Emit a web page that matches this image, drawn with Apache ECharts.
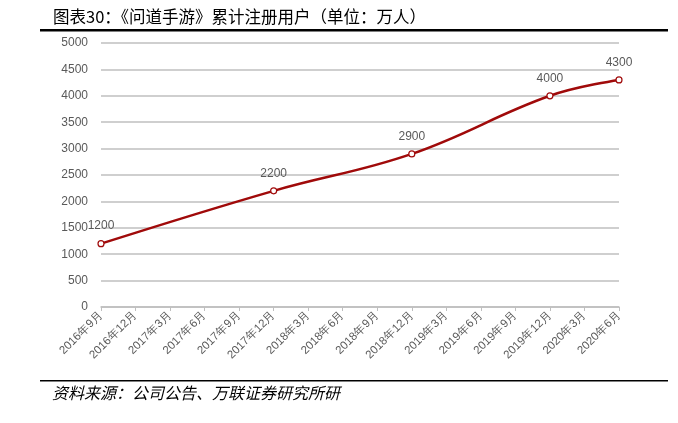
<!DOCTYPE html>
<html>
<head>
<meta charset="utf-8">
<script src="https://cdn.jsdelivr.net/npm/echarts@6/dist/echarts.min.js"></script>
<style>html,body{margin:0;padding:0;background:#fff;}#c{width:678px;height:423px;}</style>
</head>
<body>
<div id="c"></div>
<script>
const categories = ['2016年9月','2016年12月','2017年3月','2017年6月','2017年9月','2017年12月','2018年3月','2018年6月','2018年9月','2018年12月','2019年3月','2019年6月','2019年9月','2019年12月','2020年3月','2020年6月'];
const users = [1200,null,null,null,null,2200,null,null,null,2900,null,null,null,4000,null,4300];
const yTicks = {min:0,max:5000,interval:500};
const titleText = '图表30：《问道手游》累计注册用户（单位：万人）';
const sourceText = '资料来源：公司公告、万联证券研究所研';

const chart = echarts.init(document.getElementById('c'));
chart.setOption({
  animation:false,
  backgroundColor:'#fff',
  title:{text:titleText,left:48,top:3,textStyle:{fontFamily:'Noto Sans CJK SC',fontSize:16.5,fontWeight:'normal',color:'#000'}},
  graphic:[
    {type:'rect',shape:{x:40,y:29,width:628,height:2.5},style:{fill:'#000'}},
    {type:'rect',shape:{x:40,y:380,width:628,height:1.5},style:{fill:'#000'}},
    {type:'text',left:52,top:385,style:{text:sourceText,font:'italic 16px "Noto Sans CJK SC"',fill:'#000'}}
  ],
  grid:{left:101,right:59,top:43,bottom:116,containLabel:false},
  xAxis:{type:'category',data:categories,boundaryGap:false,
    axisLine:{lineStyle:{color:'#bfbfbf',width:1.5}},
    axisTick:{show:true,length:4,lineStyle:{color:'#bfbfbf'}},
    axisLabel:{rotate:45,fontSize:11.5,color:'#595959',fontFamily:'Liberation Sans',margin:6,interval:0}},
  yAxis:{type:'value',min:yTicks.min,max:yTicks.max,interval:yTicks.interval,
    axisLine:{show:false},axisTick:{show:false},
    splitLine:{lineStyle:{color:'#bfbfbf',width:1.5}},
    axisLabel:{fontSize:12,color:'#595959',fontFamily:'Liberation Sans',margin:13,formatter:function(v){return String(v);}}},
  series:[{type:'line',data:users,connectNulls:true,smooth:0.4,
    lineStyle:{color:'#a00a0a',width:2.5},
    symbol:'circle',symbolSize:6,
    itemStyle:{color:'#fff',borderColor:'#a00a0a',borderWidth:1.2},
    label:{show:true,position:'top',distance:8,fontSize:12,color:'#595959',fontFamily:'Liberation Sans'}}]
});
</script>
</body>
</html>
